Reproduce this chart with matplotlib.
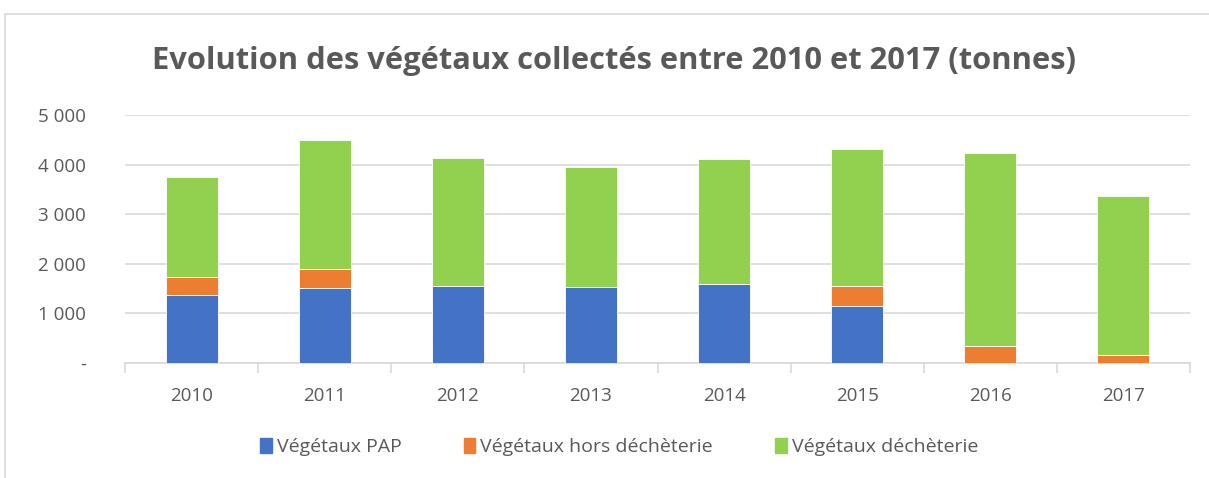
import matplotlib.pyplot as plt
import matplotlib.patches as mpatches
import numpy as np

years = ['2010', '2011', '2012', '2013', '2014', '2015', '2016', '2017']
pap = [1380, 1510, 1550, 1530, 1590, 1150, 0, 0]
hors_decheterie = [350, 390, 0, 0, 0, 400, 340, 170]
decheterie = [2010, 2590, 2580, 2430, 2530, 2760, 3890, 3200]

labels = ['Végétaux PAP', 'Végétaux hors déchèterie', 'Végétaux déchèterie']
colors = ['#4472C4', '#ED7D31', '#92D050']
text_color = '#595959'

plt.rcParams['font.family'] = ['Open Sans', 'DejaVu Sans']

fig = plt.figure(figsize=(12.09, 4.78), dpi=100)
W, H = 1209, 478

# cadre gris du graphique
fig.patches.append(mpatches.Rectangle((5 / W, -0.05), 1.2, 1 - 14 / H + 0.05,
                                      transform=fig.transFigure, fill=False,
                                      edgecolor='#D9D9D9', linewidth=1.2))

ax = fig.add_axes([125 / W, 1 - 363 / H, (1190 - 125) / W, (363 - 115) / H])

x = np.arange(len(years))
bottom = np.zeros(len(years))
for vals, lab, col in zip([pap, hors_decheterie, decheterie], labels, colors):
    ax.bar(x, vals, width=0.39, bottom=bottom, color=col, label=lab,
           edgecolor='white', linewidth=0.6, zorder=3)
    bottom += np.array(vals)

ax.set_xlim(-0.5, len(years) - 0.5)
ax.set_ylim(0, 5000)
ax.set_yticks([0, 1000, 2000, 3000, 4000, 5000])
ax.set_yticklabels(['-', '1 000', '2 000', '3 000', '4 000', '5 000'])
ax.yaxis.grid(True, color='#D9D9D9', linewidth=1.2, zorder=0)
ax.tick_params(axis='y', length=0, pad=28, labelsize=13.5, labelcolor=text_color)

ax.set_xticks(x)
ax.set_xticklabels(years)
ax.set_xticks(np.arange(-0.5, len(years)), minor=True)
ax.tick_params(axis='x', which='major', length=0, pad=17, labelsize=13.5, labelcolor=text_color)
ax.tick_params(axis='x', which='minor', length=7, width=1.2, color='#D9D9D9')

for side in ['top', 'right', 'left']:
    ax.spines[side].set_visible(False)
ax.spines['bottom'].set_color('#D9D9D9')
ax.spines['bottom'].set_linewidth(1.2)

fig.text(614 / W, 1 - 61 / H, 'Evolution des végétaux collectés entre 2010 et 2017 (tonnes)',
         ha='center', va='center', fontsize=22.2, fontweight='bold', color=text_color)

handles = [mpatches.Patch(color=c) for c in colors]
fig.legend(handles, labels, loc='center', bbox_to_anchor=(619 / W, 1 - 447 / H), ncol=3,
           frameon=False, fontsize=14, labelcolor=text_color, handlelength=0.6,
           handleheight=0.8, handletextpad=0.25, columnspacing=3.2)

fig.savefig('out.png', dpi=100)
